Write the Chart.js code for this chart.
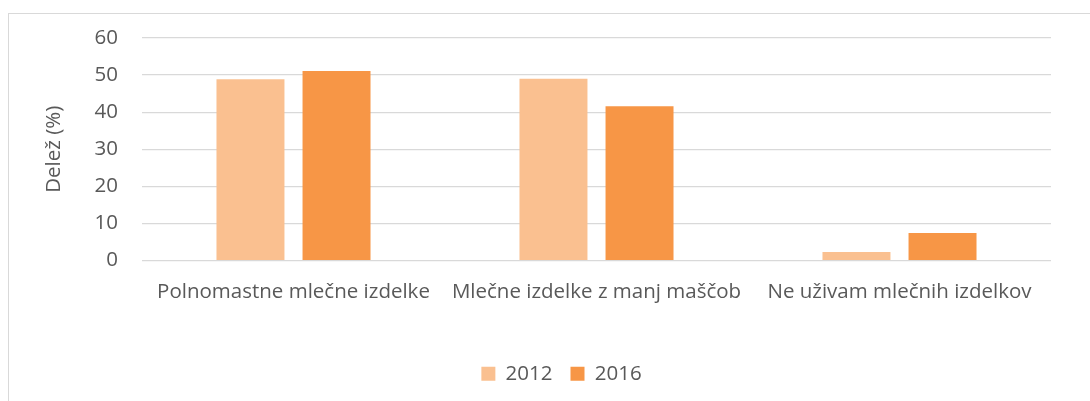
<!DOCTYPE html>
<html>
<head>
<meta charset="utf-8">
<script src="https://cdn.jsdelivr.net/npm/chart.js@4"></script>
<style>
    html, body { margin: 0; padding: 0; background: #fff; }
    #wrap { position: relative; width: 1090px; height: 401px; }
</style>
</head>
<body>
<div id="wrap"><canvas id="chart" width="1090" height="401"></canvas></div>
<script>
// ── Data ──
const categories = ['Polnomastne mlečne izdelke', 'Mlečne izdelke z manj maščob', 'Ne uživam mlečnih izdelkov'];
const years = ['2012', '2016'];
const values2012 = [48.9, 49.0, 2.3];
const values2016 = [51.1, 41.6, 7.4];
const yTicks = [0, 10, 20, 30, 40, 50, 60];

const TEXT = '#595959';
const GRID = '#d9d9d9';
const FONT = "'Open Sans', sans-serif";
const FSIZE = 20.5;

// ── Outer frame (clipped on right/bottom like the source) ──
const framePlugin = {
    id: 'frame',
    afterLayout(chart) {
        // legend sits a bit right of the canvas centre in the source
        if (chart.legend) {
            chart.legend.left += 36;
            chart.legend.right += 36;
        }
    },
    beforeDraw(chart) {
        const ctx = chart.ctx;
        ctx.save();
        ctx.strokeStyle = GRID;
        ctx.lineWidth = 1;
        ctx.strokeRect(8.5, 13.5, 1200, 500);
        ctx.restore();
    }
};

new Chart(document.getElementById('chart'), {
    type: 'bar',
    data: {
        labels: categories,
        datasets: [
            { label: years[0], data: values2012, backgroundColor: '#fac090' },
            { label: years[1], data: values2016, backgroundColor: '#f79646' }
        ]
    },
    options: {
        responsive: false,
        animation: false,
        layout: { padding: { left: 0, right: 39, top: 38, bottom: 7 } },
        datasets: {
            bar: { categoryPercentage: 0.568, barPercentage: 0.79 }
        },
        scales: {
            x: {
                grid: { display: false, drawTicks: false },
                border: { display: false },
                ticks: { color: TEXT, font: { family: FONT, size: FSIZE }, padding: 19, maxRotation: 0, autoSkip: false },
                afterFit(scale) { scale.height = 85; }
            },
            y: {
                min: 0,
                max: 60,
                afterBuildTicks(scale) { scale.ticks = yTicks.map(v => ({ value: v })); },
                grid: { color: GRID, lineWidth: 1.2, drawTicks: false },
                border: { display: false },
                ticks: { color: TEXT, font: { family: FONT, size: FSIZE }, padding: 24 },
                title: {
                    display: true,
                    text: 'Delež (%)',
                    color: TEXT,
                    font: { family: FONT, size: FSIZE },
                    padding: { top: 42, bottom: 0 }
                },
                afterFit(scale) { scale.width = 142; }
            }
        },
        plugins: {
            legend: {
                position: 'bottom',
                labels: {
                    color: TEXT,
                    font: { family: FONT, size: FSIZE },
                    boxWidth: 14,
                    boxHeight: 14,
                    padding: 18
                }
            },
            tooltip: { enabled: false }
        }
    },
    plugins: [framePlugin]
});
</script>
</body>
</html>
